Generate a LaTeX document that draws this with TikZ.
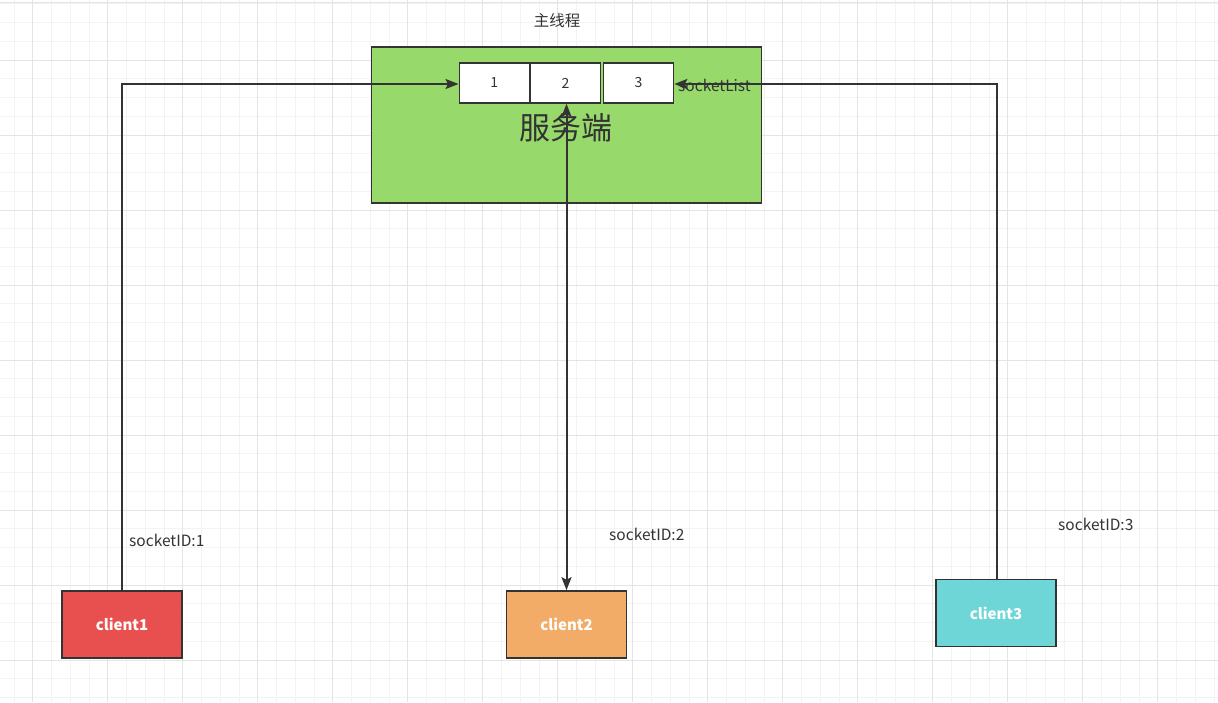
\documentclass[tikz,border=0pt]{standalone}
\usepackage{fontspec}
\setmainfont{Noto Sans CJK SC}
\usetikzlibrary{arrows.meta}
\definecolor{gridminor}{HTML}{F3F3F3}
\definecolor{gridmajor}{HTML}{E4E4E4}
\definecolor{srvgreen}{HTML}{97D96B}
\definecolor{c1red}{HTML}{E85050}
\definecolor{c2orange}{HTML}{F2AC68}
\definecolor{c3cyan}{HTML}{6FD6D7}
\definecolor{ink}{HTML}{333333}
\tikzset{
  box/.style={draw=ink, line width=1.6pt, inner sep=0pt},
  cell/.style={box, fill=white, minimum width=70pt, minimum height=40pt, font=\fontsize{14}{16}\selectfont, text=ink},
  client/.style={box, minimum width=120pt, minimum height=67pt, text=white, font=\fontsize{15}{17}\selectfont\bfseries},
  lbl/.style={text=ink, font=\fontsize{15.5}{18}\selectfont, inner sep=0pt},
  tip/.tip={Stealth[length=13pt,width=10pt,inset=2.5pt]},
  conn/.style={draw=ink, line width=2pt, -tip},
}
\begin{document}
\begin{tikzpicture}[x=1pt,y=-1pt]
\useasboundingbox (0,0) rectangle (1218,702);
\fill[white] (0,0) rectangle (1218,702);
% grid
\foreach \i in {-1,...,65} {
  \draw[gridminor, line width=0.8pt] ({32.7+18.75*\i},0) -- ({32.7+18.75*\i},702);
}
\foreach \j in {-4,...,38} {
  \draw[gridminor, line width=0.8pt] (0,{60+18.75*\j}) -- (1218,{60+18.75*\j});
}
\foreach \i in {0,...,16} {
  \draw[gridmajor, line width=1pt] ({32.7+75*\i},0) -- ({32.7+75*\i},702);
}
\foreach \j in {-1,...,9} {
  \draw[gridmajor, line width=1pt] (0,{60+75*\j}) -- (1218,{60+75*\j});
}
\draw[gridmajor, line width=1pt] (0,2) -- (1218,2);
% server
\node[box, fill=srvgreen, minimum width=390pt, minimum height=156pt] (srv) at (566.5,125) {};
\node[text=ink, font=\fontsize{31}{33}\selectfont, inner sep=0pt] (srvlbl) at (566,128) {服务端};
\node[lbl] (main) at (557,21) {主线程};
\node[cell] (c1) at (494.3,83) {1};
\node[cell] (c2) at (565.5,83) {2};
\node[cell] (c3) at (638.5,83) {3};
\node[lbl, anchor=west] (slist) at (678,85) {socketList};
% clients
\node[client, fill=c1red] (cl1) at (122,624.5) {client1};
\node[client, fill=c2orange] (cl2) at (566.5,624.5) {client2};
\node[client, fill=c3cyan] (cl3) at (996,613) {client3};
% labels
\node[lbl, anchor=west] (s1) at (129,540) {socketID:1};
\node[lbl, anchor=west] (s2) at (609,534) {socketID:2};
\node[lbl, anchor=west] (s3) at (1058,524) {socketID:3};
% connectors
\coordinate (k1) at (122,84);
\coordinate (k3) at (997,84);
\draw[conn] (cl1.north) -- (k1) -- (c1.west |- k1);
\draw[conn] (cl3.north -| k3) -- (k3) -- (c3.east |- k3);
\draw[conn, tip-tip] (c2.south -| cl2.north) -- (cl2.north);
\end{tikzpicture}
\end{document}
